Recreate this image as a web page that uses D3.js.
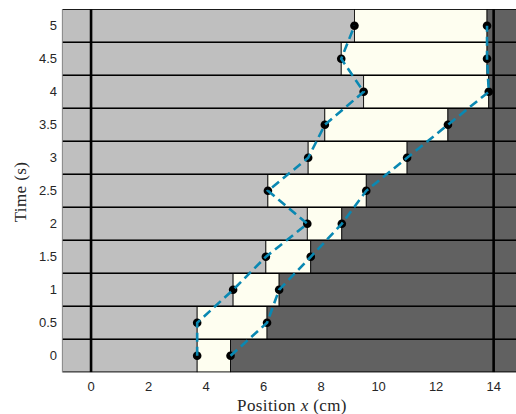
<!DOCTYPE html>
<html>
<head>
<meta charset="utf-8">
<script src="https://cdn.jsdelivr.net/npm/d3@7"></script>
<style>
  body { margin: 0; background: #fff; }
  svg { display: block; }
</style>
</head>
<body>
<svg id="chart" width="516" height="414"></svg>
<script>
// band times (s) and the left / right edge positions (cm) of the yellow region
const times = [0, 0.5, 1, 1.5, 2, 2.5, 3, 3.5, 4, 4.5, 5];
const leftPos = [3.69, 3.69, 4.94, 6.08, 7.52, 6.15, 7.55, 8.13, 9.48, 8.70, 9.16];
const rightPos = [4.85, 6.12, 6.54, 7.64, 8.72, 9.57, 10.99, 12.41, 13.83, 13.77, 13.77];
const wallPos = [0, 14];
const xTicks = [0, 2, 4, 6, 8, 10, 12, 14];
const yTicks = [0, 0.5, 1, 1.5, 2, 2.5, 3, 3.5, 4, 4.5, 5];

const lightGray = '#bfbfbf';
const ivory = '#fefef0';
const darkGray = '#616161';
const teal = '#0a88b2';
const axisColor = '#262626';

const xMin = -1, xMax = 15;
const halfBand = 0.25;

const svg = d3.select('#chart');

const x = d3.scaleLinear().domain([xMin, xMax]).range([62.3, 522.4]);
const y = d3.scaleLinear().domain([-0.25, 5.25]).range([372.3, 9.3]);

const bands = times.map((t, i) => ({ t: t, left: leftPos[i], right: rightPos[i] }));

const plot = svg.append('g');

// clip to visible area (axis extends beyond right edge of the picture)
svg.append('clipPath').attr('id', 'clip')
  .append('rect')
  .attr('x', x(xMin)).attr('y', y(5.25))
  .attr('width', 516 - x(xMin)).attr('height', y(-0.25) - y(5.25));
plot.attr('clip-path', 'url(#clip)');

// three patches per band: left gray, ivory middle, right dark gray
const segs = [];
bands.forEach((b) => {
  segs.push({ t: b.t, x0: xMin, x1: b.left, fill: lightGray });
  segs.push({ t: b.t, x0: b.left, x1: b.right, fill: ivory });
  segs.push({ t: b.t, x0: b.right, x1: xMax, fill: darkGray });
});

plot.selectAll('rect.seg')
  .data(segs)
  .enter().append('rect')
  .attr('class', 'seg')
  .attr('x', (d) => x(d.x0))
  .attr('y', (d) => y(d.t + halfBand))
  .attr('width', (d) => x(d.x1) - x(d.x0))
  .attr('height', (d) => y(d.t - halfBand) - y(d.t + halfBand))
  .style('fill', (d) => d.fill)
  .style('stroke', '#000')
  .style('stroke-width', 0.8);

// band borders
const borders = times.map((t) => t + halfBand).concat([times[0] - halfBand]);
plot.selectAll('line.border')
  .data(borders)
  .enter().append('line')
  .attr('class', 'border')
  .attr('x1', x(xMin))
  .attr('x2', x(xMax))
  .attr('y1', (d) => y(d))
  .attr('y2', (d) => y(d))
  .style('stroke', '#000')
  .style('stroke-width', 1.5);

// walls
plot.selectAll('line.wall')
  .data(wallPos)
  .enter().append('line')
  .attr('class', 'wall')
  .attr('x1', (d) => x(d))
  .attr('x2', (d) => x(d))
  .attr('y1', y(5.25))
  .attr('y2', y(-0.25))
  .style('stroke', '#000')
  .style('stroke-width', 2.6);

// markers
const pts = [];
bands.forEach((b) => {
  pts.push({ t: b.t, p: b.left });
  pts.push({ t: b.t, p: b.right });
});
plot.selectAll('circle.pt')
  .data(pts)
  .enter().append('circle')
  .attr('class', 'pt')
  .attr('cx', (d) => x(d.p))
  .attr('cy', (d) => y(d.t))
  .attr('r', 4.3)
  .style('fill', '#000');

// dashed trajectories
const line = d3.line()
  .x((d) => x(d.p))
  .y((d) => y(d.t));
[leftPos, rightPos].forEach((arr) => {
  plot.append('path')
    .datum(times.map((t, i) => ({ t: t, p: arr[i] })))
    .attr('d', line)
    .style('fill', 'none')
    .style('stroke', teal)
    .style('stroke-width', 2.6)
    .style('stroke-dasharray', '9,5');
});

// left axis line
svg.append('line')
  .attr('x1', x(xMin)).attr('x2', x(xMin))
  .attr('y1', y(5.25)).attr('y2', y(-0.25))
  .style('stroke', '#a0a0a0')
  .style('stroke-width', 0.8);

// tick labels
svg.selectAll('text.xt')
  .data(xTicks)
  .enter().append('text')
  .attr('class', 'xt')
  .attr('x', (d) => x(d))
  .attr('y', 391)
  .attr('text-anchor', 'middle')
  .style('font-family', 'Liberation Sans, Arial, sans-serif')
  .style('font-size', '13px')
  .style('fill', axisColor)
  .text((d) => d);

svg.selectAll('text.yt')
  .data(yTicks)
  .enter().append('text')
  .attr('class', 'yt')
  .attr('x', 57)
  .attr('y', (d) => y(d) + 4.5)
  .attr('text-anchor', 'end')
  .style('font-family', 'Liberation Sans, Arial, sans-serif')
  .style('font-size', '13px')
  .style('fill', axisColor)
  .text((d) => d);

// axis titles
const xLabel = svg.append('text')
  .attr('x', 292)
  .attr('y', 411)
  .attr('text-anchor', 'middle')
  .style('font-family', 'Liberation Serif, Times New Roman, serif')
  .style('font-size', '17px')
  .style('letter-spacing', '0.4px')
  .style('fill', axisColor);
xLabel.append('tspan').text('Position ');
xLabel.append('tspan').style('font-style', 'italic').text('x');
xLabel.append('tspan').text(' (cm)');

svg.append('text')
  .attr('transform', 'translate(26,192) rotate(-90)')
  .attr('text-anchor', 'middle')
  .style('font-family', 'Liberation Serif, Times New Roman, serif')
  .style('font-size', '17px')
  .style('letter-spacing', '0.4px')
  .style('fill', axisColor)
  .text('Time (s)');
</script>
</body>
</html>
